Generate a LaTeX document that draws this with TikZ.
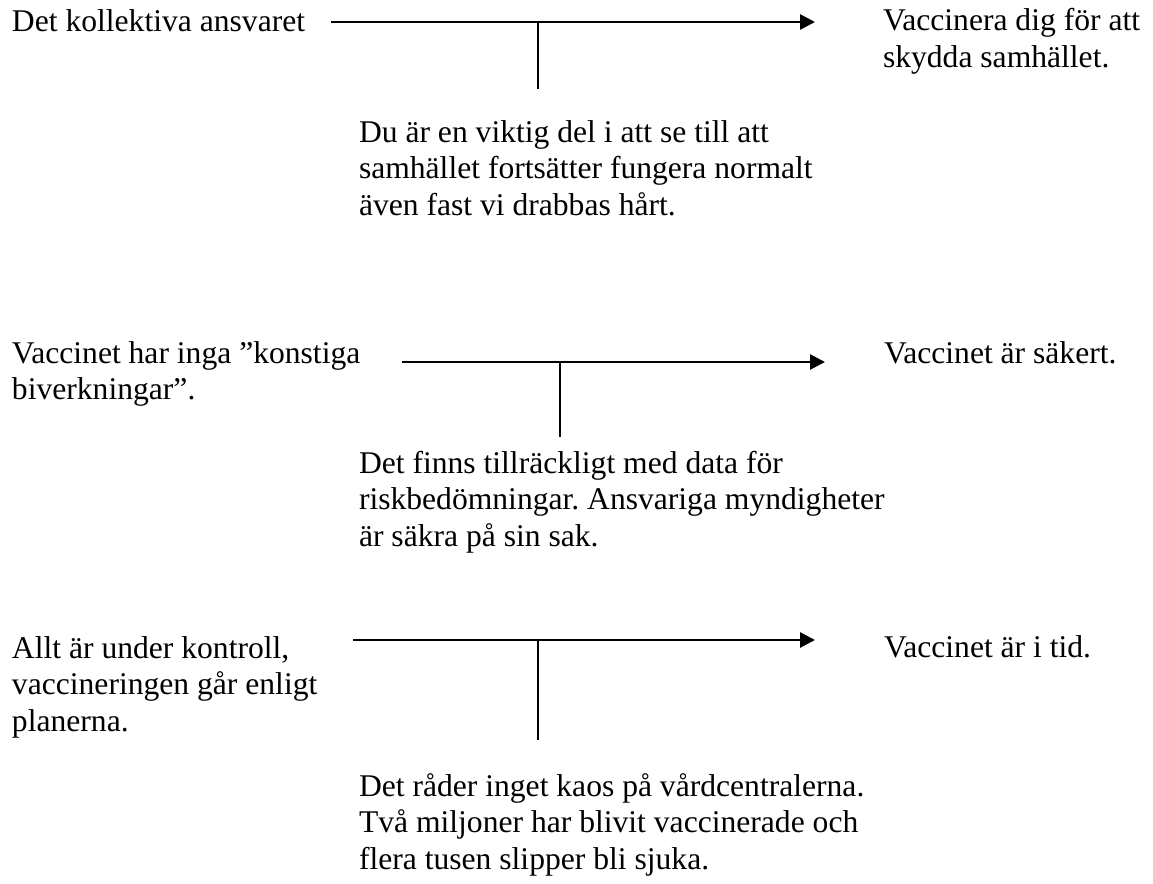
\documentclass[tikz,border=0pt]{standalone}
\usepackage{fontspec}
\setmainfont{Liberation Serif}
\usetikzlibrary{arrows.meta}
\newcommand{\mylines}[1]{\begin{tabular}[t]{@{}l@{}}#1\end{tabular}}
\begin{document}
\frenchspacing
\begin{tikzpicture}[x=1pt,y=-1pt,
  txt/.style={inner sep=0pt, outer sep=0pt, anchor=base west, text=black,
              font=\fontsize{31.6}{36.8}\selectfont\frenchspacing},
  mainarrow/.style={line width=2.7pt, -{Triangle[length=15pt,width=15pt]}},
  stem/.style={line width=1.9pt}]
\useasboundingbox[fill=white] (0,0) rectangle (1153,883);

% row 1
\node[txt] (l1) at (12,32) {Det kollektiva ansvaret};
\node[txt] (r1) at (883,31) {\mylines{Vaccinera dig för att\\skydda samhället.}};
\node[txt] (m1) at (359,142) {\mylines{Du är en viktig del i att se till att\\samhället fortsätter fungera normalt\\även fast vi drabbas hårt.}};
\coordinate (s1) at (331,22);
\coordinate (e1) at (815,22);
\coordinate (j1) at (538,22);
\coordinate (f1) at (538,89);
\draw[mainarrow] (s1) -- (e1);
\draw[stem] (j1) -- (f1);

% row 2
\node[txt] (l2) at (12,363) {\mylines{Vaccinet har inga ”konstiga\\biverkningar”.}};
\node[txt] (r2) at (884,363) {Vaccinet är säkert.};
\node[txt] (m2) at (359,473) {\mylines{Det finns tillräckligt med data för\\riskbedömningar. Ansvariga myndigheter\\är säkra på sin sak.}};
\coordinate (s2) at (402,362);
\coordinate (e2) at (825,362);
\coordinate (j2) at (560,362);
\coordinate (f2) at (560,437);
\draw[mainarrow] (s2) -- (e2);
\draw[stem] (j2) -- (f2);

% row 3
\node[txt] (l3) at (12,658) {\mylines{Allt är under kontroll,\\vaccineringen går enligt\\planerna.}};
\node[txt] (r3) at (884,657) {Vaccinet är i tid.};
\node[txt] (m3) at (359,796) {\mylines{Det råder inget kaos på vårdcentralerna.\\Två miljoner har blivit vaccinerade och\\flera tusen slipper bli sjuka.}};
\coordinate (s3) at (353,640);
\coordinate (e3) at (815,640);
\coordinate (j3) at (538,640);
\coordinate (f3) at (538,740);
\draw[mainarrow] (s3) -- (e3);
\draw[stem] (j3) -- (f3);
\end{tikzpicture}
\end{document}
